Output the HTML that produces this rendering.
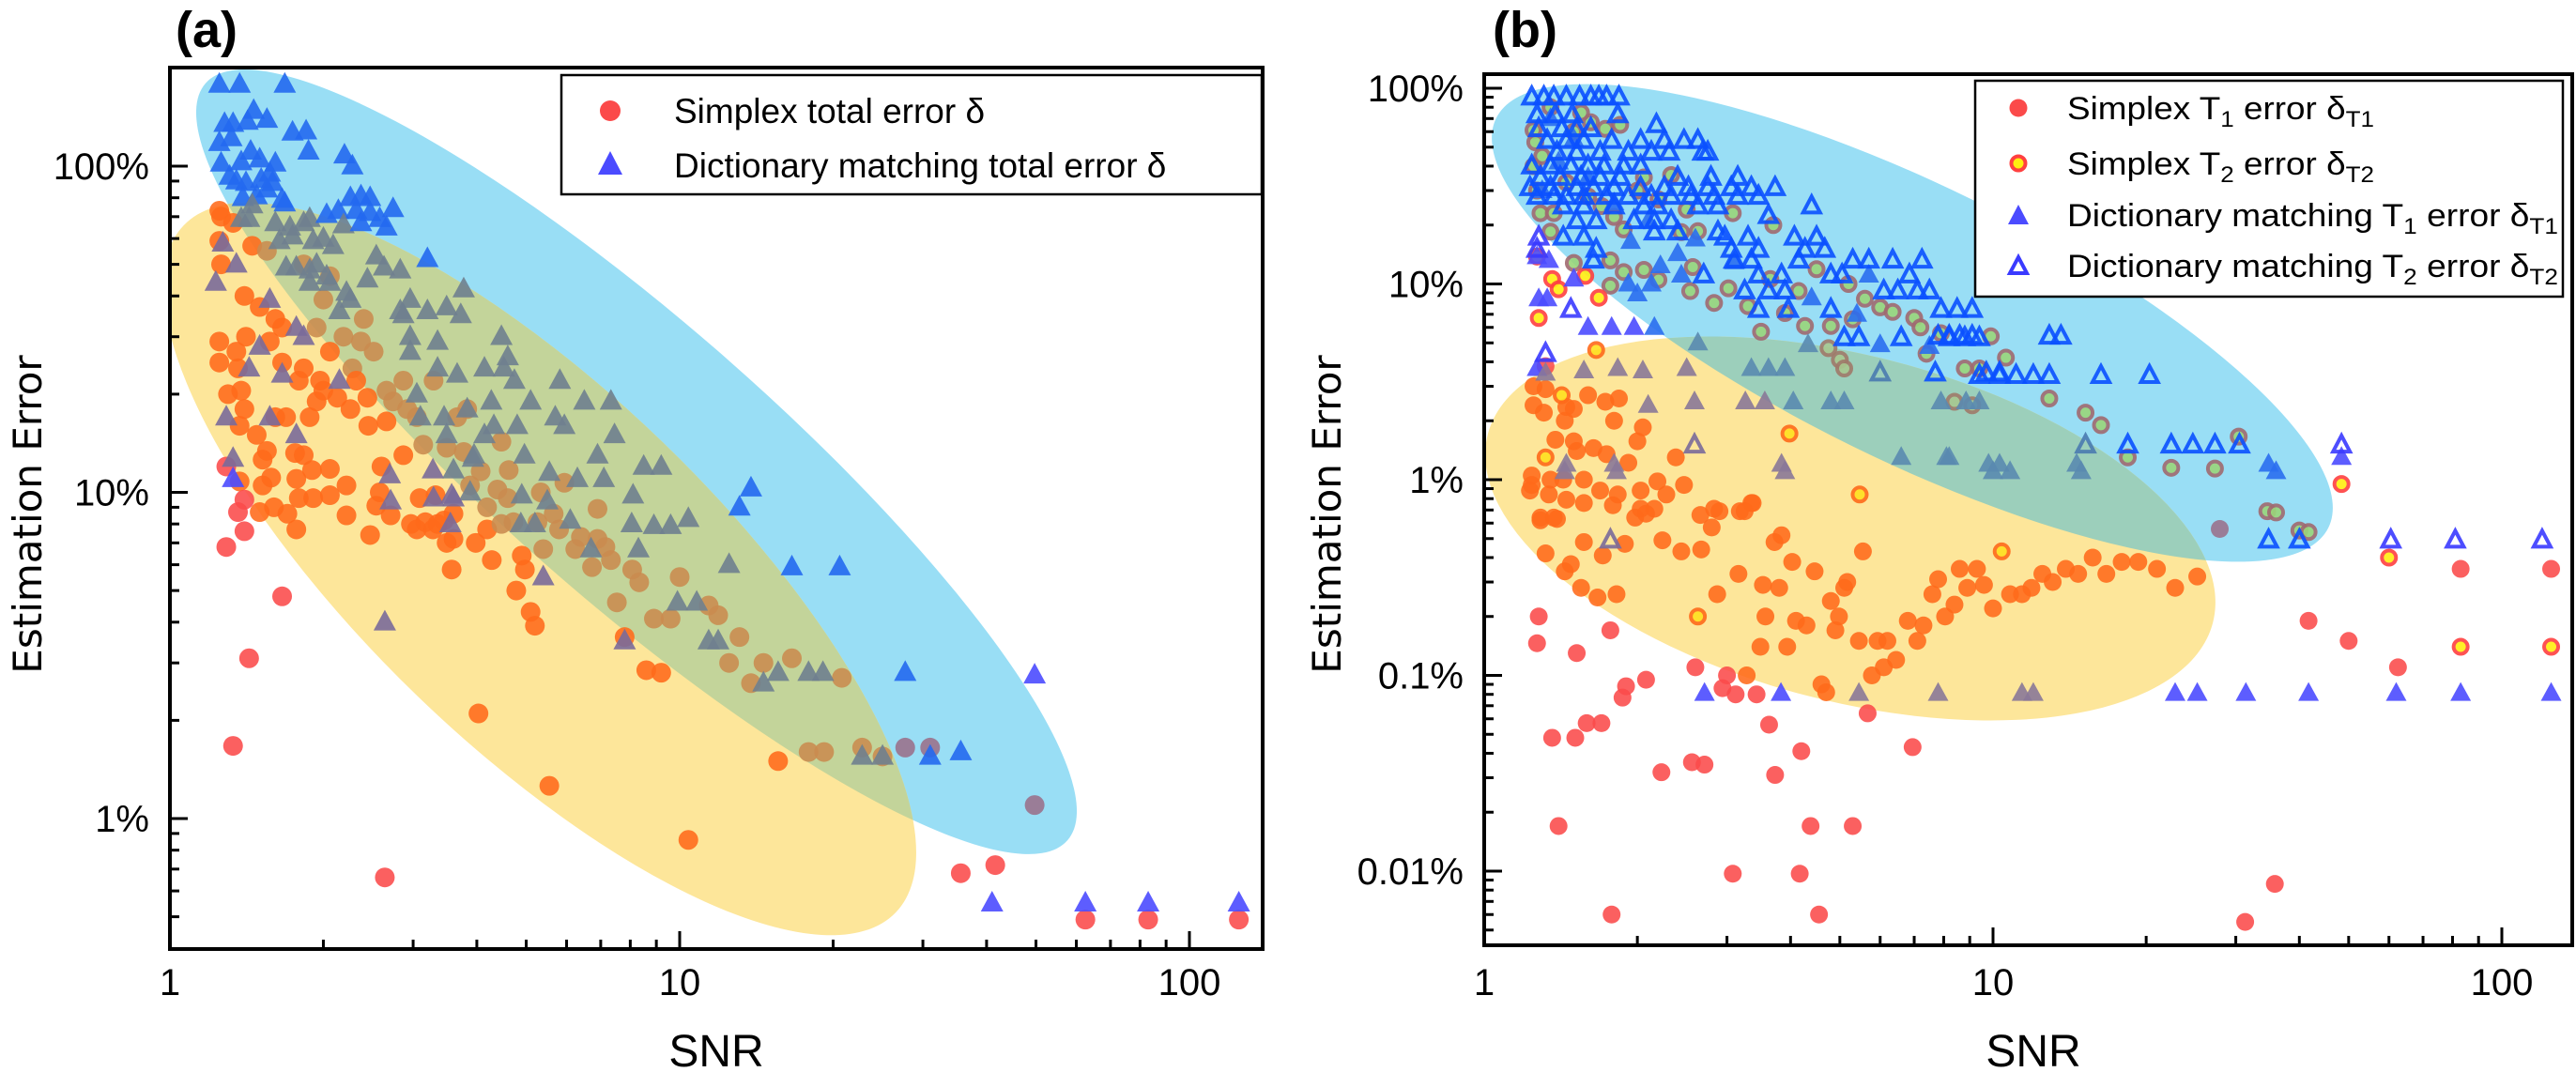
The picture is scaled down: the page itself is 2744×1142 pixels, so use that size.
<!DOCTYPE html>
<html><head><meta charset="utf-8"><style>
html,body{margin:0;padding:0;background:#fff;}
svg{display:block;}
text{font-family:"Liberation Sans",sans-serif;fill:#000;}
.dv{font-family:"DejaVu Sans","Liberation Sans",sans-serif;}
</style></head><body>
<svg id="chart" width="2744" height="1142" viewBox="0 0 2744 1142" xmlns="http://www.w3.org/2000/svg">
<defs>
<clipPath id="clipA"><rect x="181" y="72" width="1164" height="939"/></clipPath>
<clipPath id="clipB"><rect x="1581" y="79" width="1159" height="928"/></clipPath>
<clipPath id="ellYA"><ellipse cx="575" cy="606" rx="527" ry="188" transform="rotate(44 575 606)"/></clipPath>
<clipPath id="ellYB"><ellipse cx="1971" cy="563" rx="399" ry="184" transform="rotate(14.6 1971 563)"/></clipPath>
</defs>
<rect x="0" y="0" width="2744" height="1142" fill="#fff"/>
<g id="panelA">
  <g clip-path="url(#clipA)">
    <ellipse cx="678" cy="492" rx="611" ry="146" transform="rotate(41.3 678 492)" fill="#99def5"/>
    <ellipse cx="575" cy="606" rx="527" ry="188" transform="rotate(44 575 606)" fill="#fde69a"/>
    <g clip-path="url(#ellYA)">
      <ellipse cx="678" cy="492" rx="611" ry="146" transform="rotate(41.3 678 492)" fill="#c3d49a"/>
    </g>
  </g>
  <g id="marksA" clip-path="url(#clipA)"></g>
  <g id="axesA"></g>
  <text x="187" y="50" font-size="54" font-weight="bold">(a)</text>
  <text class="dv" x="0" y="0" font-size="42" text-anchor="middle" transform="translate(44 548) rotate(-90)">Estimation Error</text>
  <text x="763" y="1136" font-size="48" text-anchor="middle">SNR</text>
  <g>
    <rect x="598" y="80" width="746" height="127" fill="#fff" stroke="#000" stroke-width="2.5"/>
    <circle cx="650" cy="118" r="11" fill="#fb4a4a"/>
    <text x="718" y="131" font-size="37">Simplex total error δ</text>
    <polygon points="650,161 637,186 663,186" fill="#4b4bff"/>
    <text x="718" y="189" font-size="37">Dictionary matching total error δ</text>
  </g>
</g>
<g id="panelB">
  <g clip-path="url(#clipB)">
    <ellipse cx="2037" cy="344" rx="494" ry="146" transform="rotate(26.2 2037 344)" fill="#99def5"/>
    <ellipse cx="1971" cy="563" rx="399" ry="184" transform="rotate(14.6 1971 563)" fill="#fde69a"/>
    <g clip-path="url(#ellYB)">
      <ellipse cx="2037" cy="344" rx="494" ry="146" transform="rotate(26.2 2037 344)" fill="#9ccfbb"/>
    </g>
  </g>
  <g id="marksB" clip-path="url(#clipB)"></g>
  <g id="axesB"></g>
  <text x="1590" y="50" font-size="54" font-weight="bold">(b)</text>
  <text class="dv" x="0" y="0" font-size="42" text-anchor="middle" transform="translate(1428 548) rotate(-90)">Estimation Error</text>
  <text x="2166" y="1136" font-size="48" text-anchor="middle">SNR</text>
  <g>
    <rect x="2104" y="86" width="626" height="230" fill="#fff" stroke="#000" stroke-width="2.5"/>
    <circle cx="2150" cy="115" r="9.5" fill="#fb4a4a"/>
    <text x="2202" y="127" font-size="34" textLength="327" lengthAdjust="spacingAndGlyphs">Simplex T<tspan font-size="24" dy="8">1</tspan><tspan dy="-8"> error δ</tspan><tspan font-size="24" dy="8">T1</tspan></text>
    <circle cx="2150" cy="174" r="7.5" fill="#ffee10" stroke="#ff4040" stroke-width="4"/>
    <text x="2202" y="186" font-size="34" textLength="327" lengthAdjust="spacingAndGlyphs">Simplex T<tspan font-size="24" dy="8">2</tspan><tspan dy="-8"> error δ</tspan><tspan font-size="24" dy="8">T2</tspan></text>
    <polygon points="2150,218 2139,239 2161,239" fill="#4b4bff"/>
    <text x="2202" y="241" font-size="34" textLength="523" lengthAdjust="spacingAndGlyphs">Dictionary matching T<tspan font-size="24" dy="8">1</tspan><tspan dy="-8"> error δ</tspan><tspan font-size="24" dy="8">T1</tspan></text>
    <polygon points="2150,274 2141,291 2159,291" fill="none" stroke="#3a3aff" stroke-width="4"/>
    <text x="2202" y="295" font-size="34" textLength="523" lengthAdjust="spacingAndGlyphs">Dictionary matching T<tspan font-size="24" dy="8">2</tspan><tspan dy="-8"> error δ</tspan><tspan font-size="24" dy="8">T2</tspan></text>
  </g>
</g>
</svg>
<script>
// ---------- Panel (a) data: [SNR, error %] ----------
const aSimplex = [
[1.25,73],[1.36,8.7],[1.4,7.6],[1.29,6.8],[1.66,4.8],[1.43,3.1],[1.33,1.67],[2.64,0.66],[35.6,0.68],[41.6,0.72],[62.5,0.49],[83,0.49],[125,0.49],
[1.26,70],[1.33,67],[1.25,59],[1.26,50],[1.4,40],[1.5,37],[1.61,34],[1.66,32],[1.25,29],[1.41,30],[1.57,29],[1.25,25],[1.35,27],[1.36,24],[1.66,25],[1.83,24],[1.79,22],[1.3,20],[1.38,20.5],[1.4,18],[1.61,17],[1.69,17],[1.88,17],[2.0,20.5],[1.97,22],[2.13,19.5],[1.94,19],[2.26,18],[1.37,16],[1.48,15],[1.55,13.4],[1.83,13],[2.45,16],[1.29,12],[1.52,10.5],[1.77,11],[1.91,9.6],[2.06,9.8],[1.6,9],[1.5,8.7],[2.22,8.5],[2.58,10],[2.71,8.5],[2.87,13],[1.77,7.7],[2.47,7.4],[3.05,7.7],[3.35,8],[3.6,7.2],
[1.45,57],[1.55,55],[1.83,50],[2.06,46],[2.0,39],[2.4,34],[1.94,32],[2.19,30],[2.37,29],[2.51,27],[2.06,27],[2.28,24],[2.32,22],[2.44,19.5],[2.66,20.5],[2.87,22],[2.74,19],[3.29,22],[2.92,18],[2.66,16.5],[3.05,17],[3.66,17],[3.83,18],[3.14,14],[3.49,13.7],[3.77,13.3],[4.47,14.3],[4.07,11.6],[3.88,10.5],[4.6,9.6],[5.94,10.7],[5.26,8.1],[6.9,7.2],[4.19,7.7],[4.47,8],
[1.52,12.6],[1.76,13.2],[1.37,10.8],[1.58,11.1],[1.4,9.5],[1.79,9.6],[1.7,8.6],[1.9,11.7],[2.06,11.8],[2.22,10.5],[2.6,12],[2.54,9.1],[3.09,9.6],[3.32,9.8],[2.97,8],[3.17,8.1],[3.28,7.7],[3.45,8.2],[3.6,8.6],[3.49,7],[3.98,7],[3.57,5.8],[4.28,6.2],[4.9,6.4],[4.97,5.8],[4.78,5],[5.1,4.3],[5.2,3.9],[7.8,3.6],[8.6,2.85],[9.2,2.8],[4.03,2.1],[5.55,1.26],[10.4,0.86],[15.6,1.5],
[4.62,11.7],[4.39,10.2],[4.19,9],[4.72,8.1],[5.34,10],[5.66,8.6],[5.8,7.7],[6.4,7.3],[6.24,6.7],[5.4,6.7],[7.15,6.8],[7.33,6.2],[6.73,5.9],[6.9,8.9],[8.07,5.8],[8.33,5.3],[10,5.5],[7.53,4.6],[8.9,4.1],[9.6,4.1],[11.4,4.5],[11.9,4.2],[13.1,3.6],[12.5,3],[14.6,3],[16.6,3.1],[13.8,2.6],[20.8,2.7],[17.9,1.6],[19.2,1.6],[22.8,1.65],[25,1.55],[27.7,1.65],[31,1.65],[49.7,1.1]
];
const aDictionary = [
[1.25,178],[1.37,178],[1.68,178],[1.28,135],[1.33,135],[1.46,148],[1.55,139],[1.42,137],[1.74,127],[1.85,128],[1.87,111],[2.2,108],[2.28,100],
[1.25,118],[1.32,122],[1.26,102],[1.38,103],[1.44,111],[1.5,105],[1.61,102],[1.57,95],[1.31,93],[1.35,90],[1.41,89],[1.51,91],[1.59,89],[1.66,79],[1.39,80],[1.48,81],[1.55,85],[1.45,76],
[1.68,77],[1.88,69],[2.03,71],[2.14,73],[2.26,80],[2.37,81],[2.47,80],[2.32,73],[2.47,72],[2.74,74],[2.19,66],[2.37,67],[2.66,65],[2.58,69],
[3.2,52],[3.77,42],[4.47,30],[5.82,22],[7.33,19],[9.2,12],
[1.38,69],[1.43,69],[1.61,67],[1.72,65],[1.83,67],[1.64,59],[1.74,61],[1.91,59],[2.0,60],[2.09,57],[2.54,53],[2.44,45],[2.63,49],[2.83,48],[1.69,49],[1.77,49],[1.88,48],[1.94,50],[2.03,46],[2.06,44],[1.88,44],[2.22,41],[2.26,39],[2.15,36],[2.83,36],[2.96,39],[2.87,35],[3.2,36],[3.49,37],[3.72,35],[2.96,30],[3.35,29],[2.96,27],[4.6,26],[4.14,24],[4.52,24],[3.66,23],[3.35,24],[4.74,22],[4.27,19],[5.1,19],[5.7,17],[5.94,16],[6.5,19],[7.45,15],[6.9,13],[8.5,12],[6.3,11],[7.1,11],[4.96,13],[3.95,13],[3.49,15],[4.14,15],[4.32,16],[3.45,17],[3.1,17],[3.05,20],[3.83,18],[4.8,16],[5.5,9.4],[8.05,8],[4.88,8],[3.88,10],[3.6,9.6],
[1.27,58],[1.35,50],[1.23,44],[1.29,17],[1.57,17],[1.43,24],[1.5,28],[1.66,23],[1.77,15],[1.33,11],[2.15,22],[2.71,9.4],[3.29,9.6],[3.55,8],[1.57,39],[1.77,32],[1.83,30],
[1.33,12.7],[2.7,11.3],[3.28,11.7],[3.6,11.7],[3.93,12.7],[5.55,11.5],[3.57,9.8],[4.9,9.8],[5.2,8],[6.1,8.2],[8.1,9.8],[8.9,7.9],[9.6,7.9],[10.4,8.3],[6.7,6.7],[8.3,6.7],[12.5,6],[5.4,5.5],[2.64,4],[7.8,3.5],[9.9,4.6],[10.8,4.6],[11.4,3.5],[11.9,3.5],[15.6,2.8],[14.6,2.6],[17.9,2.8],[19.1,2.8],[22.8,1.55],[25,1.55],
[13.8,10.3],[13.1,9],[16.6,5.9],[20.6,5.9],[27.7,2.8],[31,1.55],[35.6,1.6],[41,0.55],[49.7,2.75],[62.5,0.55],[83,0.55],[125,0.55]
];
// ---------- Panel (b) data: [SNR, error %] ----------
const bSimplexT1 = [
[1.25,3.0],[1.32,2.9],[1.25,2.4],[1.31,2.2],[1.45,2.35],[1.44,2.0],[1.5,2.3],[1.6,2.7],[1.73,2.5],[1.84,2.6],[1.8,2.0],[2.05,1.85],[2.0,1.57],[1.38,1.6],[1.5,1.57],[1.52,1.4],[1.64,1.45],[1.74,1.35],[1.92,1.22],[2.38,1.3],[1.24,1.05],[1.35,1.0],[1.43,1.0],[1.57,1.0],[1.69,0.88],[1.23,0.88],[1.34,0.84],[1.45,0.79],[1.57,0.76],[1.79,0.74],[1.83,0.84],[2.03,0.88],[2.19,0.98],[2.47,0.94],[2.28,0.84],[2.03,0.71],[2.16,0.71],[2.83,0.71],[3.18,0.69],[3.35,0.76],[1.29,0.64],[1.37,0.64],[2.66,0.66],[1.32,3.8],
[1.24,0.94],[1.29,0.62],[1.39,0.63],[1.32,0.42],[1.44,0.34],[1.55,0.28],[1.67,0.25],[1.82,0.26],[1.48,0.37],[1.57,0.48],[1.71,0.41],[1.89,0.47],[1.98,0.64],[2.08,0.67],[2.24,0.49],[2.44,0.43],[2.67,0.44],[2.8,0.57],[2.9,0.69],[3.16,0.33],[2.87,0.26],[3.25,0.69],[3.37,0.76],[3.53,0.29],[3.8,0.28],[3.57,0.2],[4.1,0.19],[4.3,0.18],[3.49,0.14],[3.94,0.14],[3.72,0.48],[3.84,0.52],[4.03,0.38],[4.46,0.34],[4.8,0.24],[4.98,0.2],[4.9,0.17],[5.1,0.28],[5.17,0.3],[5.45,0.15],[5.55,0.43],[5.93,0.15],[6.2,0.15],[6.45,0.12],[5.78,0.1],[6.1,0.11],[6.8,0.19],[7.1,0.15],[7.3,0.18],[7.6,0.26],[7.8,0.31],[8.05,0.2],[8.4,0.23],[8.6,0.35],[8.9,0.28],[9.3,0.35],[9.6,0.29],[10,0.22],[10.8,0.26],[11.4,0.26],[11.9,0.28],[12.5,0.33],[13.1,0.3],[13.9,0.35],[14.7,0.33],[15.7,0.4],[16.7,0.33],[17.9,0.38],[19.3,0.38],[21,0.35],[22.8,0.28],[25.2,0.32],
[1.28,0.2],[1.27,0.146],[1.52,0.13],[1.77,0.17],[2.6,0.11],[3.0,0.1],[3.28,0.1],[2.08,0.095],[1.9,0.088],[1.87,0.077],[2.94,0.086],[3.12,0.08],[3.43,0.08],[4.7,0.082],[4.6,0.09],[5.67,0.064],[1.59,0.057],[1.7,0.057],[1.36,0.048],[1.51,0.048],[3.63,0.056],[6.95,0.043],[4.2,0.041],[2.56,0.036],[2.71,0.035],[2.23,0.032],[3.73,0.031],[1.4,0.017],[4.38,0.017],[5.3,0.017],[3.08,0.0097],[4.17,0.0097],[1.78,0.006],[4.55,0.006],[31.3,0.0055],[35.8,0.0086],[41.7,0.19],[50,0.15],[62.5,0.11],[83,0.35],[125,0.35],[27.9,0.56]
];
const bSimplexT2 = [
[1.62,67],[1.73,62],[1.85,65],[1.25,61],[1.26,53],[1.29,23],[1.37,23],[1.35,18.5],[1.88,19],[2.44,18.4],[2.63,18.6],[1.5,12.8],[1.58,11],[1.77,13.2],[1.88,11.5],[2.06,11.8],[2.2,10.5],[2.54,9.2],[2.57,12.2],[1.77,9.8],[3.02,9.5],[2.83,8],[3.3,7.7],[3.5,5.7],[3.9,7.1],[4.27,6.1],[4.75,4.7],[5.0,4.1],[5.1,3.7],[4.8,6.1],[5.3,6.6],[5.6,8.4],[6.0,7.6],[6.35,7.2],[7.0,6.7],[7.2,6],[7.4,4.4],[7.9,5.6],[8.8,3.7],[9.4,3.7],[9.9,5.4],[10.6,4.2],[8.4,2.5],[9.1,2.4],[5.2,10],[3.7,20],[3.65,10.6],[4.15,9.2],[4.5,11.9],[3.08,23],[2.33,36],[2.06,35],
[1.25,40],[1.3,45],[1.27,30],[1.5,60],[1.45,33],[1.6,28],[1.7,25],[1.8,22],[2.0,30],[2.2,27],[2.5,24],[1.35,80],[1.55,75],
[1.36,10.6],[1.4,9.4],[1.68,8.5],[1.28,6.7],[1.66,4.6],[1.42,2.7],[1.32,1.3],[3.98,1.72],[5.47,0.84],[1.27,13.8],[2.63,0.2],[10.4,0.43],[48.4,0.95],[60,0.4],[83,0.14],[125,0.14],
[30.4,1.66],[34.6,0.69],[40,0.55],[27.3,1.14],[36,0.68],[41.7,0.54],[12.9,2.6],[15.2,2.2],[18.4,1.3],[22.4,1.15],[16.3,1.9]
];
const bDictT1 = [
[1.28,8.4],[1.33,8.4],[1.27,13.8],[1.34,13.2],[1.5,10.6],[1.6,6],[1.78,6],[1.97,6],[2.16,6],[1.27,3.7],[1.32,3.5],[2.4,14.3],[2.22,12.4],[2.44,11.1],[1.92,10],[2.0,8.9],[2.13,10],[1.94,16.5],[2.63,5],[1.57,3.6],[1.83,3.7],[2.05,3.6],[2.5,3.7],[3.35,3.7],[3.62,3.7],[3.9,3.7],[2.1,2.4],[2.59,2.5],[3.26,2.5],[3.56,2.5],[4.05,2.5],[4.8,2.5],[5.1,2.5],[7.9,2.5],[8.85,2.5],[9.4,2.5],[4.33,4.9],[6.0,4.9],[6.6,1.3],[8.2,1.3],[9.8,1.2],[10.3,1.2],[1.45,1.2],[1.8,1.2],[3.84,1.2],[5.7,11.1],[8.1,1.3],[14.6,1.2],[34.8,1.2],[48.4,1.3],
[2.71,0.081],[3.83,0.081],[5.45,0.081],[7.8,0.081],[11.4,0.081],[12,0.081],[22.8,0.081],[25.2,0.081],[31.4,0.081],[41.7,0.081],[62,0.081],[83,0.081],[125,0.081],
[1.44,1.1],[1.82,1.1],[3.9,1.1],[10,1.1],[10.8,1.1],[14.9,1.1],[36,1.1],
[1.3,30],[1.4,42],[1.6,35],[1.8,26],[2.1,21],[2.6,17],[3.1,13],[4.4,8.5],[5.4,7],[7.5,4.8],[1.5,55],[1.35,70]
];
const bDictT2 = [
[1.24,90],[1.31,90],[1.37,90],[1.45,90],[1.54,90],[1.62,90],[1.68,90],[1.74,90],[1.84,90],
[1.27,73],[1.38,73],[1.49,73],[1.83,73],[1.28,62],[1.42,62],[1.52,62],[1.62,62],[2.18,65],
[1.33,54],[1.45,54],[1.57,54],[1.78,54],[2.03,54],[2.26,54],[2.47,54],[2.63,54],
[1.39,47],[1.52,47],[1.69,47],[1.92,47],[2.13,47],[2.31,47],[2.69,47],[2.75,47],
[1.24,40],[1.35,40],[1.48,40],[1.6,40],[1.72,40],[1.88,40],[2.03,40],
[1.29,35],[1.41,35],[1.55,35],[1.69,35],[1.85,35],[2.4,35],[2.79,35],[3.15,35],
[1.23,31],[1.35,31],[1.52,31],[1.64,31],[1.8,31],[2.03,31],[2.26,31],[2.52,31],[2.75,31],[3.06,31],[3.35,31],[3.73,31],
[1.27,28],[1.37,28],[1.45,28],[1.57,28],[1.74,28],[1.92,28],[2.13,28],[2.33,28],[2.55,28],[2.83,28],[3.15,28],[3.46,28],
[1.43,25],[1.57,25],[1.8,25],[2.06,25],[2.19,25],[2.63,25],[2.88,25],[4.4,25],[3.62,22.3],
[1.52,21],[1.66,21],[1.97,21],[2.16,21],[2.33,21],[2.16,18.4],[2.4,18.4],[2.88,18.4],
[1.43,17.3],[1.57,17.3],[2.97,17.3],[3.3,17.3],[4.07,17.3],[4.5,17.3],[1.28,17.3],
[1.27,15],[1.66,15],[3.06,15],[3.46,15],[4.27,15],[4.67,15],
[1.64,13.2],[3.1,13.2],[3.35,13.2],[4.15,13.2],[5.3,13.2],[5.7,13.2],[6.35,13.2],[7.25,13.2],
[2.7,11.1],[3.46,11.1],[3.84,11.1],[4.8,11.1],[5.05,11.1],[6.85,11.1],
[3.25,9.2],[3.62,9.2],[3.9,9.2],[6.1,9.2],[6.5,9.2],[7.1,9.2],[7.5,9.2],
[1.48,7.4],[3.46,7.4],[3.96,7.4],[4.8,7.4],[7.9,7.4],[8.5,7.4],[9.1,7.4],
[5.1,5.3],[5.45,5.3],[6.6,5.3],[8.2,5.3],[8.8,5.3],[9.4,5.3],[1.32,4.4],
[6.0,3.5],[7.7,3.5],[9.7,3.5],[10.3,3.5],
[7.8,5.4],[8.2,5.4],[8.6,5.4],[9.1,5.4],[12.9,5.4],[13.6,5.4],
[9.4,3.4],[10.3,3.4],[11.1,3.4],[12,3.4],[12.9,3.4],[16.3,3.4],[20.3,3.4],
[15.2,1.5],[18.4,1.5],[22.4,1.5],[24.7,1.5],[27.3,1.5],[30.5,1.5],[48.4,1.5],[2.59,1.5],
[34.8,0.49],[40,0.49],[60.5,0.49],[81,0.49],[120,0.49],[1.77,0.49]
];
// ---------- Axis tick definitions ----------
const xTickValues = [1, 10, 100];
const xTickLabels = ['1', '10', '100'];
const aYTickValues = [100, 10, 1];
const aYTickLabels = ['100%', '10%', '1%'];
const bYTickValues = [100, 10, 1, 0.1, 0.01];
const bYTickLabels = ['100%', '10%', '1%', '0.1%', '0.01%'];

const NS = 'http://www.w3.org/2000/svg';
function el(tag, attrs, parent) {
  const e = document.createElementNS(NS, tag);
  for (const k in attrs) e.setAttribute(k, attrs[k]);
  parent.appendChild(e);
  return e;
}
const L = Math.log10;
const PA = {left:181, right:1345, top:72, bottom:1011,
  x: s => 181 + 543 * L(s), y: e => 177 + 347.5 * (2 - L(e)), eMin:0.398, eMax:200};
const PB = {left:1581, right:2740, top:79, bottom:1007,
  x: s => 1581 + 542 * L(s), y: e => 94 + 208.5 * (2 - L(e)), eMin:0.0042, eMax:118};

const EA_B = {cx:678, cy:492, a:611, b:146, t:41.3};
const EA_Y = {cx:575, cy:606, a:527, b:188, t:44};
const EB_B = {cx:2037, cy:344, a:494, b:146, t:26.2};
const EB_Y = {cx:1971, cy:563, a:399, b:184, t:14.6};
function inE(E, x, y) {
  const r = -E.t * Math.PI / 180, dx = x - E.cx, dy = y - E.cy;
  const u = dx * Math.cos(r) - dy * Math.sin(r), v = dx * Math.sin(r) + dy * Math.cos(r);
  return (u / E.a) ** 2 + (v / E.b) ** 2 <= 1;
}
function region(EB, EY, x, y) {
  const b = inE(EB, x, y), yy = inE(EY, x, y);
  return b && yy ? 'both' : b ? 'blue' : yy ? 'yellow' : 'none';
}
function tri(x, y, w, h) {
  return `${x},${y - h * 0.6} ${x - w / 2},${y + h * 0.4} ${x + w / 2},${y + h * 0.4}`;
}

function drawAxes(P, g, yVals, yLabs, name) {
  const frame = el('rect', {x:P.left, y:P.top, width:P.right - P.left, height:P.bottom - P.top, fill:'none', stroke:'#000', 'stroke-width':4}, g);
  
  
  for (let d = 1; d <= 100; d *= 10) {
    for (let m = 1; m <= 9; m++) {
      const v = d * m, X = P.x(v);
      if (X <= P.left + 1 || X >= P.right - 1) continue;
      const len = m === 1 ? 19 : 10;
      const t = el('line', {x1:X, x2:X, y1:P.bottom, y2:P.bottom - len, stroke:'#000', 'stroke-width':3}, g);
      
      
    }
  }
  xTickValues.forEach((v, i) => {
    const t = el('text', {x:P.x(v), y:1060, 'font-size':40, 'text-anchor':'middle'}, g);
    t.textContent = xTickLabels[i];
    
    
  });
  for (let d = 0.001; d <= 1000; d *= 10) {
    for (let m = 1; m <= 9; m++) {
      const v = d * m;
      if (v < P.eMin || v > P.eMax) continue;
      const Y = P.y(v);
      if (Y <= P.top + 2 || Y >= P.bottom - 2) continue;
      const len = m === 1 ? 19 : 10;
      const t = el('line', {x1:P.left, x2:P.left + len, y1:Y, y2:Y, stroke:'#000', 'stroke-width':3}, g);
      
      
    }
  }
  yVals.forEach((v, i) => {
    const t = el('text', {x:P.left - 22, y:P.y(v) + 14, 'font-size':40, 'text-anchor':'end'}, g);
    t.textContent = yLabs[i];
    
    
  });
}
drawAxes(PA, document.getElementById('axesA'), aYTickValues, aYTickLabels, 'panel-a');
drawAxes(PB, document.getElementById('axesB'), bYTickValues, bYTickLabels, 'panel-b');

const gA = document.getElementById('marksA');
const aCircCol = {none:'#fb4a4a', yellow:'#ff6a1a', blue:'#9a6f8a', both:'#c98b4e'};
const aTriCol = {none:'#4b4bff', yellow:'#7a6a9a', blue:'#2469f0', both:'#6f7f8f'};
aSimplex.forEach(p => {
  const x = PA.x(p[0]), y = PA.y(p[1]);
  const c = el('circle', {cx:x, cy:y, r:10.5, fill:aCircCol[region(EA_B, EA_Y, x, y)], 'fill-opacity':0.88}, gA);
  
  
});
aDictionary.forEach(p => {
  const x = PA.x(p[0]), y = PA.y(p[1]);
  const t = el('polygon', {points:tri(x, y, 24, 22), fill:aTriCol[region(EA_B, EA_Y, x, y)], 'fill-opacity':0.9}, gA);
  
  
});

const gB = document.getElementById('marksB');
const bCircCol = {none:'#fb4a4a', yellow:'#ff6a1a', blue:'#9a6f8a', both:'#b07a60'};
const bRingStroke = {none:'#ff4040', yellow:'#ff6a1a', blue:'#a06a70', both:'#a07a6a'};
const bRingFill = {none:'#ffee10', yellow:'#ffe020', blue:'#9ad67a', both:'#a8c890'};
const bTriCol = {none:'#4b4bff', yellow:'#8a7898', blue:'#2a6ef0', both:'#5a8ab0'};
const bHolCol = {none:'#3a3aff', yellow:'#7a6a9a', blue:'#0a50ff', both:'#4a7ab0'};
bSimplexT1.forEach(p => {
  const x = PB.x(p[0]), y = PB.y(p[1]);
  const c = el('circle', {cx:x, cy:y, r:9.5, fill:bCircCol[region(EB_B, EB_Y, x, y)], 'fill-opacity':0.88}, gB);
  
  
});
bSimplexT2.forEach(p => {
  const x = PB.x(p[0]), y = PB.y(p[1]), r = region(EB_B, EB_Y, x, y);
  const c = el('circle', {cx:x, cy:y, r:7.5, fill:bRingFill[r], stroke:bRingStroke[r], 'stroke-width':4, opacity:0.9}, gB);
  
  
});
bDictT1.forEach(p => {
  const x = PB.x(p[0]), y = PB.y(p[1]);
  const t = el('polygon', {points:tri(x, y, 22, 20), fill:bTriCol[region(EB_B, EB_Y, x, y)], 'fill-opacity':0.9}, gB);
  
  
});
bDictT2.forEach(p => {
  const x = PB.x(p[0]), y = PB.y(p[1]);
  const t = el('polygon', {points:tri(x, y, 18, 17), fill:'none', stroke:bHolCol[region(EB_B, EB_Y, x, y)], 'stroke-width':4, 'stroke-opacity':0.9}, gB);
  
  
});
</script>
</body></html>
